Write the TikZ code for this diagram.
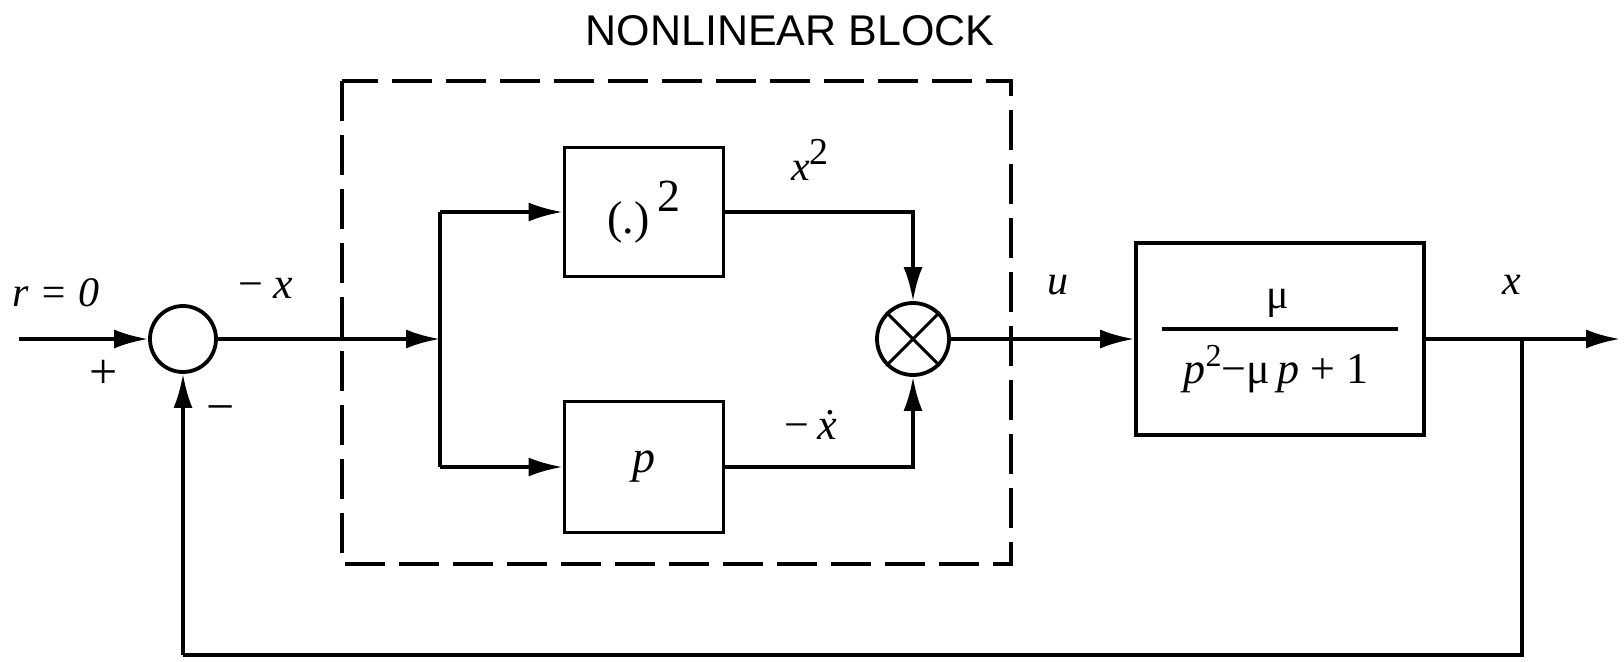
\documentclass[tikz,border=0pt]{standalone}
\usepackage{fontspec}
\setmainfont{Liberation Serif}
\newfontfamily\titlefont{Liberation Sans}
\usetikzlibrary{arrows.meta}
\begin{document}
\begin{tikzpicture}[x=1pt,y=1pt,
  line width=3.8pt,
  tip/.style={-{Latex[length=34pt,width=19pt]}},
  blockbox/.style={draw,line width=3.8pt,minimum width=159pt,inner sep=0pt},
  junction/.style={draw,circle,line width=3.8pt,inner sep=0pt},
  lbl/.style={font=\fontsize{42}{42}\selectfont\itshape,inner sep=0pt},
  sign/.style={font=\fontsize{50}{50}\selectfont,inner sep=0pt}]
\useasboundingbox (0,0) rectangle (1624,-661);
\fill[white] (0,0) rectangle (1624,-661);
% title and dashed frame
\node[font=\titlefont\fontsize{43}{43}\selectfont,inner sep=0pt] (title) at (790,-31) {NONLINEAR BLOCK};
\draw[line width=4pt,dash pattern=on 40pt off 14pt] (342,-81) rectangle (1011,-564);
% blocks
\node[junction,minimum size=66pt] (sum) at (183,-339) {};
\node[blockbox,minimum height=129pt] (sq) at (644,-212) {\fontsize{46}{46}\selectfont(.)\,\raisebox{22pt}{2}};
\node[blockbox,minimum height=131pt] (der) at (644,-467) {\fontsize{46}{46}\selectfont\itshape p};
\node[junction,minimum size=72pt] (mult) at (913,-339) {};
\draw[line width=3pt] (mult.45) -- (mult.225) (mult.135) -- (mult.315);
\node[draw,line width=3.8pt,minimum width=288pt,minimum height=192pt,inner sep=0pt] (plant) at (1280,-339) {};
\node[font=\fontsize{42}{42}\selectfont,inner sep=0pt] (num) at (1278,-303) {μ};
\draw[line width=3.8pt] (1162,-329) -- (1398,-329);
\node[font=\fontsize{44}{44}\selectfont,inner sep=0pt] (den) at (1276,-369) {\textit{p}\raisebox{17pt}{\fontsize{32}{32}\selectfont 2}−μ\,\textit{p} + 1};
% coordinates
\coordinate (in) at (19,-339);
\coordinate (br) at (440,-339);
\coordinate (brt) at (440,-212);
\coordinate (brb) at (440,-467);
\coordinate (tk) at (1522,-339);
\coordinate (out) at (1620,-339);
\coordinate (fbr) at (1522,-655);
\coordinate (fbl) at (183,-655);
% connectors
\draw[tip] (in) -- (sum.west);
\draw[tip] (sum.east) -- (br);
\draw (brt) -- (brb);
\draw[tip] (brt) -- (sq.west);
\draw[tip] (brb) -- (der.west);
\draw[tip] (sq.east) -| (mult.north);
\draw[tip] (der.east) -| (mult.south);
\draw[tip] (mult.east) -- (plant.west);
\draw[tip] (plant.east) -- (out);
\draw (tk) -- (fbr) -- (fbl);
\draw[tip] (fbl) -- (sum.south);
% labels
\node[lbl] (lr) at (56,-293) {r = 0};
\node[sign,font=\fontsize{44}{44}\selectfont] (lmx) at (266,-288) {−\hspace{10pt}\textit{x}};
\node[sign] (lplus) at (104,-374) {+};
\node[sign] (lminus) at (221,-415) {−};
\node[lbl] (lx2) at (810,-160) {x\raisebox{16pt}{\upshape\fontsize{38}{38}\selectfont 2}};
\node[sign,font=\fontsize{44}{44}\selectfont] (lxd) at (811,-425) {−\hspace{8pt}\textit{\.{x}}};
\node[lbl] (lu) at (1058,-285) {u};
\node[lbl] (lx) at (1512,-285) {x};
\end{tikzpicture}
\end{document}
